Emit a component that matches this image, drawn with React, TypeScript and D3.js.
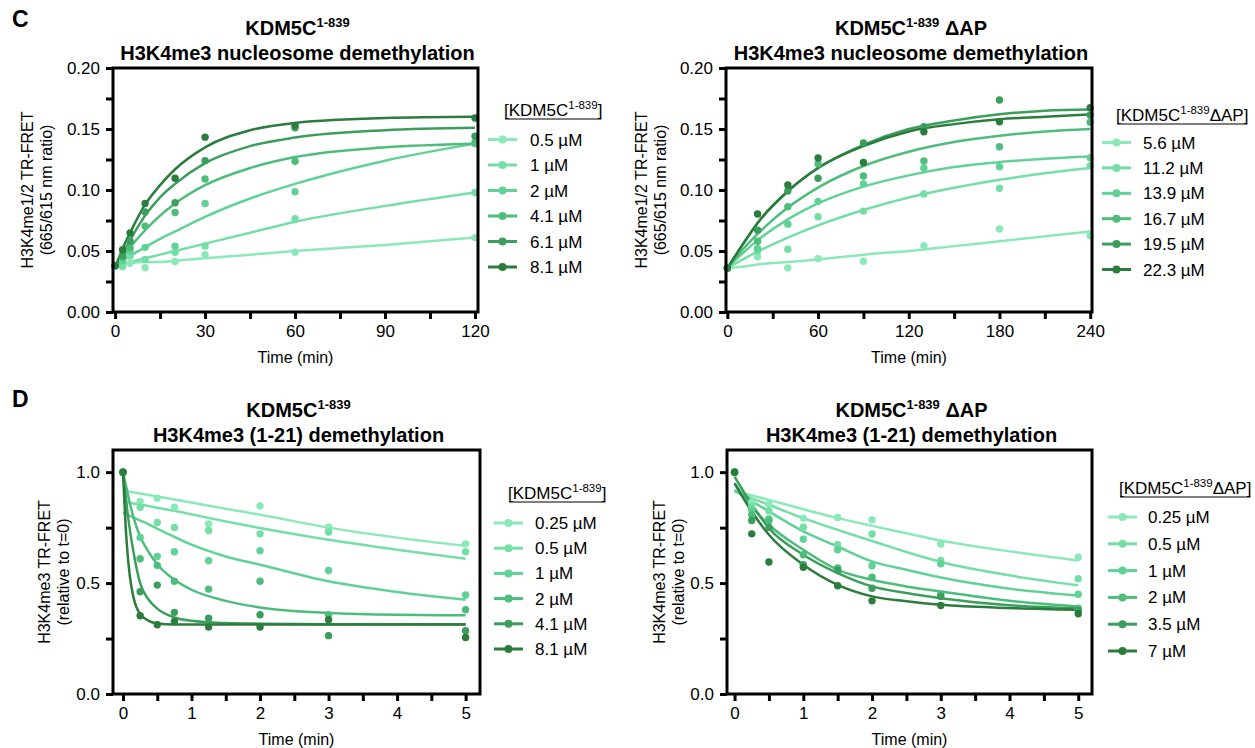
import * as d3 from 'd3';
import { useEffect, useRef } from 'react';

const FONT = '"Liberation Sans", Arial, Helvetica, sans-serif';
const greens = ['#8be8b9', '#74dea6', '#60d295', '#4dbd7b', '#3b9e5c', '#2b7c3d'];

// ---- C, left: KDM5C 1-839, nucleosome ----
const concC1 = ['0.5 µM', '1 µM', '2 µM', '4.1 µM', '6.1 µM', '8.1 µM'];
const timeC1 = [0, 2.5, 5, 10, 20, 30, 60, 120];
const pointsC1 = [
  [0.038, 0.037, 0.040, 0.0364, 0.0414, 0.047, 0.049, 0.061],
  [0.038, 0.038, 0.046, 0.043, 0.049, 0.0542, 0.0764, 0.098],
  [0.038, 0.042, 0.050, 0.053, 0.054, 0.089, 0.0986, 0.138],
  [0.038, 0.045, 0.0526, 0.0704, 0.0816, 0.109, 0.1236, 0.139],
  [0.038, 0.046, 0.058, 0.082, 0.0896, 0.124, 0.151, 0.144],
  [0.038, 0.051, 0.0647, 0.089, 0.1096, 0.1433, 0.153, 0.159],
];
const curveTimeC1 = [0, 2.5, 5, 10, 15, 20, 30, 45, 60, 90, 120];
const curvesC1 = [
  [0.039, 0.039, 0.040, 0.041, 0.041, 0.042, 0.044, 0.047, 0.050, 0.055, 0.061],
  [0.038, 0.039, 0.041, 0.044, 0.047, 0.050, 0.056, 0.065, 0.074, 0.087, 0.098],
  [0.038, 0.042, 0.046, 0.053, 0.060, 0.066, 0.078, 0.093, 0.105, 0.124, 0.138],
  [0.037, 0.045, 0.053, 0.067, 0.079, 0.089, 0.104, 0.118, 0.127, 0.135, 0.138],
  [0.036, 0.048, 0.059, 0.079, 0.094, 0.105, 0.122, 0.136, 0.143, 0.149, 0.151],
  [0.036, 0.052, 0.065, 0.088, 0.104, 0.117, 0.135, 0.149, 0.155, 0.159, 0.160],
];

// ---- C, right: KDM5C 1-839 ΔAP, nucleosome ----
const concC2 = ['5.6 µM', '11.2 µM', '13.9 µM', '16.7 µM', '19.5 µM', '22.3 µM'];
const timeC2 = [0, 20, 40, 60, 90, 130, 180, 240];
const pointsC2 = [
  [0.036, 0.0452, 0.0362, 0.0436, 0.0416, 0.0544, 0.068, 0.0626],
  [0.036, 0.050, 0.0515, 0.0781, 0.0827, 0.0967, 0.1014, 0.120],
  [0.036, 0.052, 0.072, 0.0907, 0.1049, 0.1178, 0.1191, 0.1265],
  [0.036, 0.058, 0.0863, 0.1214, 0.1115, 0.1238, 0.1355, 0.1555],
  [0.036, 0.0671, 0.0992, 0.1096, 0.1386, 0.1519, 0.1738, 0.1615],
  [0.036, 0.0803, 0.1041, 0.1263, 0.1225, 0.1478, 0.156, 0.1675],
];
const curveTimeC2 = [0, 10, 20, 40, 60, 90, 120, 150, 180, 210, 240];
const curvesC2 = [
  [0.036, 0.037, 0.039, 0.041, 0.043, 0.047, 0.050, 0.054, 0.058, 0.062, 0.066],
  [0.036, 0.043, 0.0495, 0.061, 0.071, 0.0836, 0.0938, 0.1018, 0.1084, 0.1137, 0.118],
  [0.036, 0.048, 0.0587, 0.0759, 0.089, 0.1028, 0.112, 0.1188, 0.1229, 0.1257, 0.1275],
  [0.036, 0.051, 0.064, 0.0856, 0.102, 0.1197, 0.1314, 0.1393, 0.1444, 0.1479, 0.150],
  [0.036, 0.055, 0.073, 0.099, 0.118, 0.137, 0.150, 0.157, 0.162, 0.165, 0.166],
  [0.036, 0.055, 0.073, 0.099, 0.118, 0.136, 0.148, 0.154, 0.158, 0.160, 0.162],
];

// ---- D, left: KDM5C 1-839, peptide ----
const concD1 = ['0.25 µM', '0.5 µM', '1 µM', '2 µM', '4.1 µM', '8.1 µM'];
const timeD1 = [0, 0.25, 0.5, 0.75, 1.25, 2, 3, 5];
const pointsD1 = [
  [1.0, 0.868, 0.883, 0.842, 0.767, 0.848, 0.752, 0.677],
  [1.0, 0.842, 0.773, 0.751, 0.737, 0.722, 0.730, 0.641],
  [1.0, 0.706, 0.620, 0.641, 0.601, 0.646, 0.557, 0.446],
  [1.0, 0.610, 0.580, 0.508, 0.473, 0.508, 0.357, 0.380],
  [1.0, 0.461, 0.491, 0.368, 0.342, 0.357, 0.263, 0.285],
  [1.0, 0.353, 0.312, 0.327, 0.302, 0.302, 0.335, 0.255],
];
const curveTimeD1 = [0, 0.05, 0.1, 0.15, 0.25, 0.375, 0.5, 0.75, 1, 1.5, 2, 3, 4, 5];
const curvesD1 = [
  [0.917, 0.914, 0.912, 0.909, 0.904, 0.897, 0.890, 0.877, 0.863, 0.835, 0.808, 0.750, 0.705, 0.668],
  [0.868, 0.865, 0.862, 0.859, 0.854, 0.847, 0.840, 0.826, 0.810, 0.778, 0.748, 0.695, 0.650, 0.610],
  [0.818, 0.810, 0.803, 0.796, 0.782, 0.765, 0.745, 0.708, 0.673, 0.620, 0.583, 0.508, 0.460, 0.425],
  [1.0, 0.930, 0.860, 0.800, 0.710, 0.640, 0.585, 0.515, 0.470, 0.420, 0.390, 0.365, 0.357, 0.355],
  [1.0, 0.860, 0.740, 0.645, 0.500, 0.425, 0.385, 0.345, 0.330, 0.320, 0.317, 0.315, 0.315, 0.315],
  [1.0, 0.700, 0.530, 0.440, 0.360, 0.330, 0.318, 0.313, 0.313, 0.313, 0.313, 0.313, 0.313, 0.313],
];

// ---- D, right: KDM5C 1-839 ΔAP, peptide ----
const concD2 = ['0.25 µM', '0.5 µM', '1 µM', '2 µM', '3.5 µM', '7 µM'];
const timeD2 = [0, 0.25, 0.5, 1, 1.5, 2, 3, 5];
const pointsD2 = [
  [1.0, 0.863, 0.856, 0.793, 0.796, 0.785, 0.676, 0.617],
  [1.0, 0.845, 0.826, 0.752, 0.673, 0.721, 0.602, 0.520],
  [1.0, 0.830, 0.790, 0.698, 0.650, 0.578, 0.587, 0.450],
  [1.0, 0.808, 0.781, 0.628, 0.568, 0.526, 0.449, 0.387],
  [1.0, 0.782, 0.751, 0.583, 0.557, 0.477, 0.440, 0.377],
  [1.0, 0.722, 0.595, 0.571, 0.488, 0.420, 0.399, 0.362],
];
const curveTimeD2 = [0, 0.25, 0.5, 1, 1.5, 2, 2.5, 3, 4, 5];
const curvesD2 = [
  [0.917, 0.895, 0.875, 0.833, 0.793, 0.758, 0.725, 0.692, 0.643, 0.602],
  [0.913, 0.883, 0.853, 0.793, 0.740, 0.690, 0.640, 0.595, 0.535, 0.490],
  [0.920, 0.870, 0.823, 0.733, 0.665, 0.598, 0.560, 0.525, 0.475, 0.444],
  [0.950, 0.845, 0.763, 0.650, 0.560, 0.515, 0.485, 0.462, 0.420, 0.395],
  [0.980, 0.855, 0.748, 0.628, 0.545, 0.485, 0.455, 0.432, 0.400, 0.387],
  [0.950, 0.823, 0.718, 0.583, 0.492, 0.440, 0.418, 0.402, 0.388, 0.380],
];

const ticksC1x = [0, 30, 60, 90, 120];
const minorC1x = [15, 45, 75, 105];
const ticksC2x = [0, 60, 120, 180, 240];
const minorC2x = [30, 90, 150, 210];
const ticksCy = [0, 0.05, 0.1, 0.15, 0.2];
const minorCy = [0.025, 0.075, 0.125, 0.175];
const ticksDx = [0, 1, 2, 3, 4, 5];
const minorDx = [0.5, 1.5, 2.5, 3.5, 4.5];
const ticksDy = [0, 0.5, 1.0];
const minorDy = [0.25, 0.75];

function drawPanel(svg, p) {
  const x = d3.scaleLinear().domain(p.xDomain).range([p.left, p.right]);
  const y = d3.scaleLinear().domain(p.yDomain).range([p.bottom, p.top]);
  const g = svg.append('g');

  // fitted curves
  const line = d3
    .line()
    .x((d) => x(d[0]))
    .y((d) => y(d[1]))
    .curve(d3.curveMonotoneX);
  p.curves.forEach((vals, i) => {
    g.append('path')
      .datum(p.curveTimes.map((t, j) => [t, vals[j]]))
      .attr('fill', 'none')
      .attr('stroke', greens[i])
      .attr('stroke-width', 2.5)
      .attr('d', line);
  });

  // data points
  p.points.forEach((vals, i) => {
    g.append('g')
      .selectAll('circle')
      .data(vals.map((v, j) => [p.times[j], v]))
      .enter()
      .append('circle')
      .attr('cx', (d) => x(d[0]))
      .attr('cy', (d) => y(d[1]))
      .attr('r', 3.7)
      .attr('fill', greens[i]);
  });

  const styleAxis = (a) => {
    a.select('.domain').remove();
    a.attr('font-size', 17).attr('font-family', FONT);
    a.selectAll('line').attr('stroke', '#000').attr('stroke-width', 3);
    a.selectAll('text').attr('fill', '#000');
  };

  // y axis
  const ay = g.append('g').attr('transform', `translate(${p.left},0)`)
    .call(d3.axisLeft(y).tickValues(p.yTicks).tickFormat(d3.format(p.yFormat)).tickSize(7).tickSizeOuter(0).tickPadding(6));
  styleAxis(ay);
  const ayMinor = g.append('g').attr('transform', `translate(${p.left},0)`)
    .call(d3.axisLeft(y).tickValues(p.yMinor).tickFormat(() => '').tickSize(7).tickSizeOuter(0));
  styleAxis(ayMinor);

  // x axis
  const ax = g.append('g').attr('transform', `translate(0,${p.bottom})`)
    .call(d3.axisBottom(x).tickValues(p.xTicks).tickFormat(d3.format('d')).tickSize(7).tickSizeOuter(0).tickPadding(6));
  styleAxis(ax);
  const axMinor = g.append('g').attr('transform', `translate(0,${p.bottom})`)
    .call(d3.axisBottom(x).tickValues(p.xMinor).tickFormat(() => '').tickSize(7).tickSizeOuter(0));
  styleAxis(axMinor);

  // frame
  g.append('rect')
    .attr('x', p.left)
    .attr('y', p.top)
    .attr('width', p.right - p.left)
    .attr('height', p.bottom - p.top)
    .attr('fill', 'none')
    .attr('stroke', '#000')
    .attr('stroke-width', 3);

  const cx = (p.left + p.right) / 2;

  // titles
  const t1 = g.append('text')
    .attr('x', cx + 2).attr('y', p.titleY)
    .attr('text-anchor', 'middle').attr('font-family', FONT)
    .attr('font-size', 20).attr('font-weight', 'bold');
  t1.append('tspan').text('KDM5C');
  t1.append('tspan').attr('dy', -8).attr('font-size', 13).text('1-839');
  if (p.dAP) t1.append('tspan').attr('dy', 8).text(' ΔAP');
  g.append('text')
    .attr('x', cx + 2).attr('y', p.titleY + 25)
    .attr('text-anchor', 'middle').attr('font-family', FONT)
    .attr('font-size', 20).attr('font-weight', 'bold')
    .text(p.subtitle);

  // axis titles
  g.append('text')
    .attr('x', cx).attr('y', p.bottom + 51)
    .attr('text-anchor', 'middle').attr('font-family', FONT).attr('font-size', 16)
    .text('Time (min)');
  const cy = (p.top + p.bottom) / 2;
  p.yLabel.forEach((s, i) => {
    g.append('text')
      .attr('transform', `translate(${p.yLabelX + i * 19},${cy}) rotate(-90)`)
      .attr('text-anchor', 'middle').attr('font-family', FONT).attr('font-size', 16)
      .text(s);
  });

  // legend
  const L = p.legend;
  const lt = g.append('text')
    .attr('x', L.titleX).attr('y', L.titleY + 6)
    .attr('font-family', FONT).attr('font-size', 17);
  lt.append('tspan').text('[KDM5C');
  lt.append('tspan').attr('dy', -7).attr('font-size', 11.5).text('1-839');
  lt.append('tspan').attr('dy', 7).text((p.dAP ? 'ΔAP' : '') + ']');
  const w = lt.node().getComputedTextLength();
  g.append('line')
    .attr('x1', L.titleX + 1).attr('x2', L.titleX + w - 1)
    .attr('y1', L.titleY + 9).attr('y2', L.titleY + 9)
    .attr('stroke', '#000').attr('stroke-width', 1.2);

  p.labels.forEach((lab, i) => {
    const ry = L.rowY + i * L.dy;
    g.append('line')
      .attr('x1', L.lineX).attr('x2', L.lineX + 29)
      .attr('y1', ry).attr('y2', ry)
      .attr('stroke', greens[i]).attr('stroke-width', 3);
    g.append('circle')
      .attr('cx', L.lineX + 14.5).attr('cy', ry).attr('r', 4)
      .attr('fill', greens[i]);
    g.append('text')
      .attr('x', L.textX).attr('y', ry + 6)
      .attr('font-family', FONT).attr('font-size', 17)
      .text(lab);
  });
}

export default function App() {
  const ref = useRef(null);

  useEffect(() => {
    const svg = d3.select(ref.current);
    svg.selectAll('*').remove();
    svg.append('rect').attr('width', 1255).attr('height', 748).attr('fill', '#fff');

    const letters = [['C', 27], ['D', 407]];
    letters.forEach(([s, yy]) => {
      svg.append('text').attr('x', 12).attr('y', yy)
        .attr('font-family', FONT).attr('font-size', 23).attr('font-weight', 'bold')
        .text(s);
    });

    drawPanel(svg, {
      left: 113, right: 478, top: 68, bottom: 312,
      xDomain: [-0.7, 121], yDomain: [0, 0.2],
      xTicks: ticksC1x, xMinor: minorC1x, yTicks: ticksCy, yMinor: minorCy, yFormat: '.2f',
      times: timeC1, points: pointsC1, curveTimes: curveTimeC1, curves: curvesC1,
      labels: concC1, dAP: false, titleY: 35, subtitle: 'H3K4me3 nucleosome demethylation',
      yLabel: ['H3K4me1/2 TR-FRET', '(665/615 nm ratio)'], yLabelX: 33,
      legend: { titleX: 504, titleY: 110, lineX: 488, textX: 530, rowY: 139.5, dy: 25.5 },
    });
    drawPanel(svg, {
      left: 726, right: 1092, top: 68, bottom: 312,
      xDomain: [-0.9, 241.2], yDomain: [0, 0.2],
      xTicks: ticksC2x, xMinor: minorC2x, yTicks: ticksCy, yMinor: minorCy, yFormat: '.2f',
      times: timeC2, points: pointsC2, curveTimes: curveTimeC2, curves: curvesC2,
      labels: concC2, dAP: true, titleY: 35, subtitle: 'H3K4me3 nucleosome demethylation',
      yLabel: ['H3K4me1/2 TR-FRET', '(665/615 nm ratio)'], yLabelX: 647,
      legend: { titleX: 1116, titleY: 115, lineX: 1102, textX: 1143, rowY: 142.5, dy: 25.4 },
    });
    drawPanel(svg, {
      left: 113, right: 480, top: 450, bottom: 694,
      xDomain: [-0.146, 5.21], yDomain: [0, 1.1],
      xTicks: ticksDx, xMinor: minorDx, yTicks: ticksDy, yMinor: minorDy, yFormat: '.1f',
      times: timeD1, points: pointsD1, curveTimes: curveTimeD1, curves: curvesD1,
      labels: concD1, dAP: false, titleY: 417, subtitle: 'H3K4me3 (1-21) demethylation',
      yLabel: ['H3K4me3 TR-FRET', '(relative to t=0)'], yLabelX: 50,
      legend: { titleX: 508, titleY: 493, lineX: 494, textX: 535, rowY: 523, dy: 25.2 },
    });
    drawPanel(svg, {
      left: 727, right: 1092, top: 450, bottom: 694,
      xDomain: [-0.11, 5.2], yDomain: [0, 1.1],
      xTicks: ticksDx, xMinor: minorDx, yTicks: ticksDy, yMinor: minorDy, yFormat: '.1f',
      times: timeD2, points: pointsD2, curveTimes: curveTimeD2, curves: curvesD2,
      labels: concD2, dAP: true, titleY: 417, subtitle: 'H3K4me3 (1-21) demethylation',
      yLabel: ['H3K4me3 TR-FRET', '(relative to t=0)'], yLabelX: 665,
      legend: { titleX: 1119, titleY: 488, lineX: 1108, textX: 1148, rowY: 517, dy: 26.8 },
    });
  }, []);

  return (
    <div style={{ position: 'absolute', left: 0, top: 0 }}>
      <svg ref={ref} width={1255} height={748} style={{ display: 'block' }}></svg>
    </div>
  );
}
